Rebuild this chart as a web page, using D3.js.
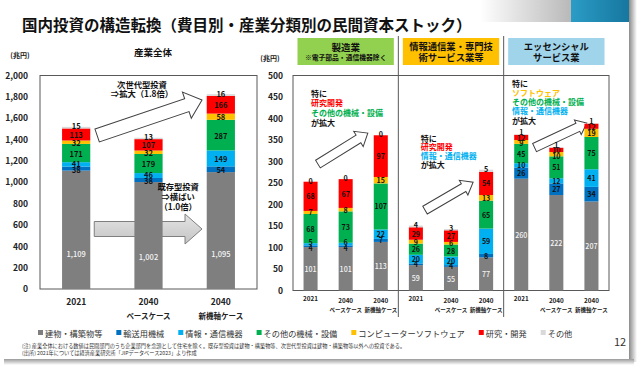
<!DOCTYPE html>
<html><head><meta charset="utf-8">
<script src="https://cdn.jsdelivr.net/npm/d3@7"></script>
<style>
body{margin:0;background:#fff;}
svg{display:block;}
text{font-family:"Noto Sans CJK JP","Noto Sans",sans-serif;}
</style>
</head><body>
<svg id="c" width="640" height="365"></svg>
<script>
// ---------------- data ----------------
const seriesNames = ["建物・構築物等","輸送用機械","情報・通信機器","その他の機械・設備","コンピューターソフトウェア","研究・開発","その他"];
const seriesColors = ["#7F7F7F","#0070C0","#00B0F0","#00B050","#FFC000","#FF0000","#D9D9D9"];
const yearLabels = ["2021","2040","2040"];
const caseLabels = ["","ベースケース","新機軸ケース"];
// 産業全体 (兆円) : per bar, series in order above
const totalValues = [
  [1109,38,41,171,32,113,15],
  [1002,38,46,179,32,107,13],
  [1095,54,149,287,58,166,16]
];
const manufacturingValues = [
  [101,4,5,68,7,68,0],
  [101,4,6,73,8,67,0],
  [113,7,22,107,15,97,0]
];
const infoCommValues = [
  [59,4,20,26,9,29,4],
  [55,4,20,28,6,27,3],
  [77,8,59,65,13,54,5]
];
const essentialValues = [
  [260,26,10,45,9,12,1],
  [222,27,12,51,10,10,1],
  [207,34,41,75,19,12,1]
];
const sectorTitles = [
  ["製造業","※電子部品・通信機器除く"],
  ["情報通信業・専門技","術サービス業等"],
  ["エッセンシャル","サービス業"]
];
const sectorBoxColors = ["#92D050","#FFC000","#9FD4EA"];
const leftTicks = [0,200,400,600,800,1000,1200,1400,1600,1800,2000];
const rightTicks = [0,50,100,150,200,250,300,350,400,450,500];

// ---------------- setup ----------------
const svg = d3.select("#c");
const defs = svg.append("defs");
const F = '"Noto Sans CJK JP","Noto Sans",sans-serif';

const g1 = defs.append("linearGradient").attr("id","fade").attr("x1",0).attr("x2",1);
g1.append("stop").attr("offset",0).attr("stop-color","#fff");
g1.append("stop").attr("offset",1).attr("stop-color","#b8b8b8");
const g2 = defs.append("linearGradient").attr("id","teal").attr("x1",0).attr("x2",1);
g2.append("stop").attr("offset",0).attr("stop-color","#2B9CC6");
g2.append("stop").attr("offset",1).attr("stop-color","#16779F");
const g3 = defs.append("linearGradient").attr("id","shR").attr("x1",0).attr("x2",1);
g3.append("stop").attr("offset",0).attr("stop-color","#8a8a8a");
g3.append("stop").attr("offset",1).attr("stop-color","#fff");
const g4 = defs.append("linearGradient").attr("id","shB").attr("x1",0).attr("x2",0).attr("y1",0).attr("y2",1);
g4.append("stop").attr("offset",0).attr("stop-color","#9a9a9a");
g4.append("stop").attr("offset",1).attr("stop-color","#fff");
const g5 = defs.append("linearGradient").attr("id","grayArrow").attr("x1",0).attr("x2",0).attr("y1",0).attr("y2",1);
g5.append("stop").attr("offset",0).attr("stop-color","#e4e4e4");
g5.append("stop").attr("offset",1).attr("stop-color","#c4c4c4");

svg.append("rect").attr("x",0).attr("y",0).attr("width",640).attr("height",365).attr("fill","#fff");
svg.append("rect").attr("x",480).attr("y",0).attr("width",92).attr("height",22).attr("fill","url(#fade)");
svg.append("rect").attr("x",571).attr("y",0).attr("width",58).attr("height",22).attr("fill","url(#teal)");
svg.append("rect").attr("x",629).attr("y",0).attr("width",8).attr("height",362).attr("fill","url(#shR)");
svg.append("rect").attr("x",4).attr("y",359).attr("width",630).attr("height",6).attr("fill","url(#shB)");

svg.append("text").attr("x",22).attr("y",24).attr("dominant-baseline","central")
  .attr("font-size",15.5).attr("font-weight",700).attr("fill","#111")
  .text("国内投資の構造転換（費目別・産業分類別の民間資本ストック）");

// ---------------- helpers ----------------
function stackBar(vals){
  let acc=0; return vals.map((v,i)=>{const s={i,v,y0:acc,y1:acc+v}; acc+=v; return s;});
}
function drawBars(g, data, x, y, fs, grayFrac){
  data.forEach((vals,bi)=>{
    const segs = stackBar(vals);
    const total = segs[segs.length-1].y1;
    const bx = x(bi), bw = x.bandwidth();
    g.selectAll(null).data(segs).enter().append("rect")
      .attr("x",bx).attr("width",bw)
      .attr("y",d=>y(d.y1)).attr("height",d=>Math.max(0,y(d.y0)-y(d.y1)))
      .attr("fill",d=>seriesColors[d.i]);
    const labs = segs.map(d=>({d, pos: d.i===6 ? y(total)-1 : (d.i===0 ? y(d.y0+(d.y1-d.y0)*grayFrac) : y((d.y0+d.y1)/2))}));
    const minGap = fs*0.78;
    for(let it=0;it<30;it++){
      for(let k=2;k<labs.length;k++){
        const a=labs[k-1], b=labs[k];
        const gap=a.pos-b.pos;
        if(gap<minGap){const m=(minGap-gap)/2; a.pos+=m; b.pos-=m;}
      }
    }
    labs.forEach(l=>{
      g.append("text").attr("x",bx+bw/2).attr("y",l.pos)
        .attr("text-anchor","middle").attr("dominant-baseline","central")
        .attr("font-size",fs).attr("font-weight",l.d.i===0?500:700)
        .attr("fill",l.d.i===0?"#f4f4f4":"#111")
        .text(d3.format(",")(l.d.v));
    });
  });
}
function blockArrow(g, x1,y1,x2,y2,bw,hw,hl,fill,stroke){
  const L=Math.hypot(x2-x1,y2-y1), a=Math.atan2(y2-y1,x2-x1)*180/Math.PI;
  const pts=[[0,-bw],[L-hl,-bw],[L-hl,-hw],[L,0],[L-hl,hw],[L-hl,bw],[0,bw]];
  g.append("path").attr("d","M"+pts.map(p=>p.join(",")).join("L")+"Z")
    .attr("transform",`translate(${x1},${y1}) rotate(${a})`)
    .attr("fill",fill).attr("stroke",stroke).attr("stroke-width",1).attr("stroke-linejoin","miter");
}
function multiText(g, x, y, lines, fs, anchor, dy){
  lines.forEach((l,k)=>{
    g.append("text").attr("x",x).attr("y",y+k*dy).attr("text-anchor",anchor)
      .attr("dominant-baseline","central").attr("font-size",fs).attr("font-weight",700)
      .attr("fill",l[1]).text(l[0]);
  });
}

// ---------------- left panel: 産業全体 ----------------
const xL = d3.scaleBand().domain(d3.range(totalValues.length)).range([40,257]).paddingInner(0.61).paddingOuter(0.305);
const yL = d3.scaleLinear().domain([0,2000]).range([289,75.5]);
const gL = svg.append("g");
gL.append("rect").attr("x",40).attr("y",yL(2000)).attr("width",217).attr("height",yL(0)-yL(2000))
  .attr("fill","none").attr("stroke","#595959").attr("stroke-width",1);
const axL = gL.append("g").attr("transform","translate(40,0)")
  .call(d3.axisLeft(yL).tickValues(leftTicks).tickSize(0).tickPadding(12).tickFormat(d3.format(",")));
axL.select(".domain").remove();
axL.selectAll("text").attr("font-family",F).attr("font-size",8.5).attr("font-weight",700).attr("fill","#222");
gL.append("text").attr("x",20).attr("y",55).attr("text-anchor","middle").attr("dominant-baseline","central")
  .attr("font-size",7).attr("font-weight",700).attr("fill","#222").text("(兆円)");
gL.append("text").attr("x",153).attr("y",52).attr("text-anchor","middle").attr("dominant-baseline","central")
  .attr("font-size",9.5).attr("font-weight",700).attr("fill","#111").text("産業全体");

const stepL = xL.step();
const cxL = i => xL(0)+xL.bandwidth()/2 + i*stepL;
blockArrow(gL, cxL(0.29), yL(1438), cxL(1.74), yL(1770), 6.8, 13.8, 16, "#fff", "#404040");
blockArrow(gL, cxL(0.25), yL(562), cxL(1.74), yL(562), 7.5, 15, 17, "url(#grayArrow)", "#7f7f7f");
drawBars(gL, totalValues, xL, yL, 7.5, 0.3);
multiText(gL, cxL(0.91), yL(1923), [["次世代型投資","#111"],["⇒拡大（1.8倍）","#111"]], 8.3, "middle", 9.6);
multiText(gL, cxL(1.41), yL(965), [["既存型投資","#111"],["⇒横ばい","#111"],["（1.0倍）","#111"]], 8.3, "middle", 9.8);
yearLabels.forEach((t,i)=>{
  gL.append("text").attr("x",cxL(i)).attr("y",301).attr("text-anchor","middle").attr("dominant-baseline","central")
    .attr("font-size",8.5).attr("font-weight",700).attr("fill","#222").text(t);
  gL.append("text").attr("x",cxL(i)).attr("y",315).attr("text-anchor","middle").attr("dominant-baseline","central")
    .attr("font-size",7.5).attr("font-weight",700).attr("fill","#222").text(caseLabels[i]);
});

// ---------------- right panel: sectors ----------------
const sectorData = [manufacturingValues, infoCommValues, essentialValues];
const allRight = sectorData.flat();
const xR = d3.scaleBand().domain(d3.range(allRight.length)).range([293,609]).paddingInner(0.6).paddingOuter(0.3);
const yR = d3.scaleLinear().domain([0,500]).range([290.5,75.5]);
const gR = svg.append("g");
const stepR = xR.step();
const cxR = i => xR(0)+xR.bandwidth()/2 + i*stepR;
gR.append("rect").attr("x",293).attr("y",yR(500)).attr("width",316).attr("height",yR(0)-yR(500))
  .attr("fill","none").attr("stroke","#595959").attr("stroke-width",1);
const axR = gR.append("g").attr("transform","translate(293,0)")
  .call(d3.axisLeft(yR).tickValues(rightTicks).tickSize(0).tickPadding(10));
axR.select(".domain").remove();
axR.selectAll("text").attr("font-family",F).attr("font-size",8.5).attr("font-weight",700).attr("fill","#222");
gR.append("text").attr("x",270).attr("y",58).attr("text-anchor","middle").attr("dominant-baseline","central")
  .attr("font-size",7).attr("font-weight",700).attr("fill","#222").text("(兆円)");

sectorData.forEach((s,k)=>{
  const x0 = 293 + k*3*stepR;
  if(k>0){
    gR.append("line").attr("x1",x0).attr("x2",x0).attr("y1",36).attr("y2",317)
      .attr("stroke","#595959").attr("stroke-width",1);
  }
  const bw = 3*stepR-9;
  gR.append("rect").attr("x",x0+4.5).attr("y",38).attr("width",bw).attr("height",27).attr("fill",sectorBoxColors[k]);
  const cx = x0+1.5*stepR;
  const t = sectorTitles[k];
  if(k===0){
    gR.append("text").attr("x",cx).attr("y",46.5).attr("text-anchor","middle").attr("dominant-baseline","central")
      .attr("font-size",9.5).attr("font-weight",700).attr("fill","#111").text(t[0]);
    gR.append("text").attr("x",cx).attr("y",57).attr("text-anchor","middle").attr("dominant-baseline","central")
      .attr("font-size",6.8).attr("font-weight",700).attr("fill","#111").text(t[1]);
  } else {
    gR.append("text").attr("x",cx).attr("y",46).attr("text-anchor","middle").attr("dominant-baseline","central")
      .attr("font-size",9.3).attr("font-weight",700).attr("fill","#111").text(t[0]);
    gR.append("text").attr("x",cx).attr("y",56.5).attr("text-anchor","middle").attr("dominant-baseline","central")
      .attr("font-size",9.3).attr("font-weight",700).attr("fill","#111").text(t[1]);
  }
});

blockArrow(gR, cxR(0.21), yR(294), cxR(1.63), yR(366), 4.5, 9, 11, "#fff", "#404040");
blockArrow(gR, cxR(3.26), yR(187), cxR(4.63), yR(252), 4.5, 8.5, 11, "#fff", "#404040");
blockArrow(gR, cxR(6.38), yR(332.5), cxR(7.87), yR(389.5), 4.5, 8, 10, "#fff", "#404040");
drawBars(gR, allRight, xR, yR, 7.1, 0.5);

multiText(gR, cxR(0.01), yR(459), [["特に","#111"],["研究開発","#FF0000"],["その他の機械・設備","#00B050"],["が拡大","#111"]], 8, "start", 9.7);
multiText(gR, cxR(3.14), yR(354.6), [["特に","#111"],["研究開発","#FF0000"],["情報・通信機器","#00B0F0"],["が拡大","#111"]], 8, "start", 8.8);
multiText(gR, cxR(5.74), yR(482.5), [["特に","#111"],["ソフトウェア","#FFC000"],["その他の機械・設備","#00B050"],["情報・通信機器","#00B0F0"],["が拡大","#111"]], 8, "start", 9.3);

allRight.forEach((_,i)=>{
  const k = i%3;
  gR.append("text").attr("x",cxR(i)).attr("y",k===0?298.5:300).attr("text-anchor","middle").attr("dominant-baseline","central")
    .attr("font-size",6.3).attr("font-weight",700).attr("fill","#222").text(yearLabels[k]);
  if(caseLabels[k]) gR.append("text").attr("x",cxR(i)).attr("y",310).attr("text-anchor","middle").attr("dominant-baseline","central")
    .attr("font-size",5.5).attr("font-weight",700).attr("fill","#222").text(caseLabels[k]);
});

// ---------------- legend ----------------
const gLeg = svg.append("g");
let lx = 38;
seriesNames.forEach((n,i)=>{
  gLeg.append("rect").attr("x",lx).attr("y",330).attr("width",5).attr("height",5).attr("fill",seriesColors[i]);
  const t = gLeg.append("text").attr("x",lx+7).attr("y",333).attr("dominant-baseline","central")
    .attr("font-size",8.2).attr("fill","#333").text(n);
  lx += 7 + t.node().getComputedTextLength() + 14;
});

// ---------------- footnotes ----------------
svg.append("text").attr("x",22).attr("y",345).attr("dominant-baseline","central").attr("font-size",5.2).attr("fill","#333")
  .text("(注) 産業全体における数値は民間部門のうち企業部門を念頭として住宅を除く。既存型投資は建物・構築物等、次世代型投資は建物・構築物等以外への投資である。");
svg.append("text").attr("x",22).attr("y",352).attr("dominant-baseline","central").attr("font-size",5.2).attr("fill","#333")
  .text("(出所) 2021年については経済産業研究所「JIPデータベース2023」より作成");
svg.append("text").attr("x",620).attr("y",341).attr("text-anchor","middle").attr("dominant-baseline","central")
  .attr("font-size",11).attr("font-family","Liberation Serif, serif").attr("fill","#333").text("12");
</script>
</body></html>
